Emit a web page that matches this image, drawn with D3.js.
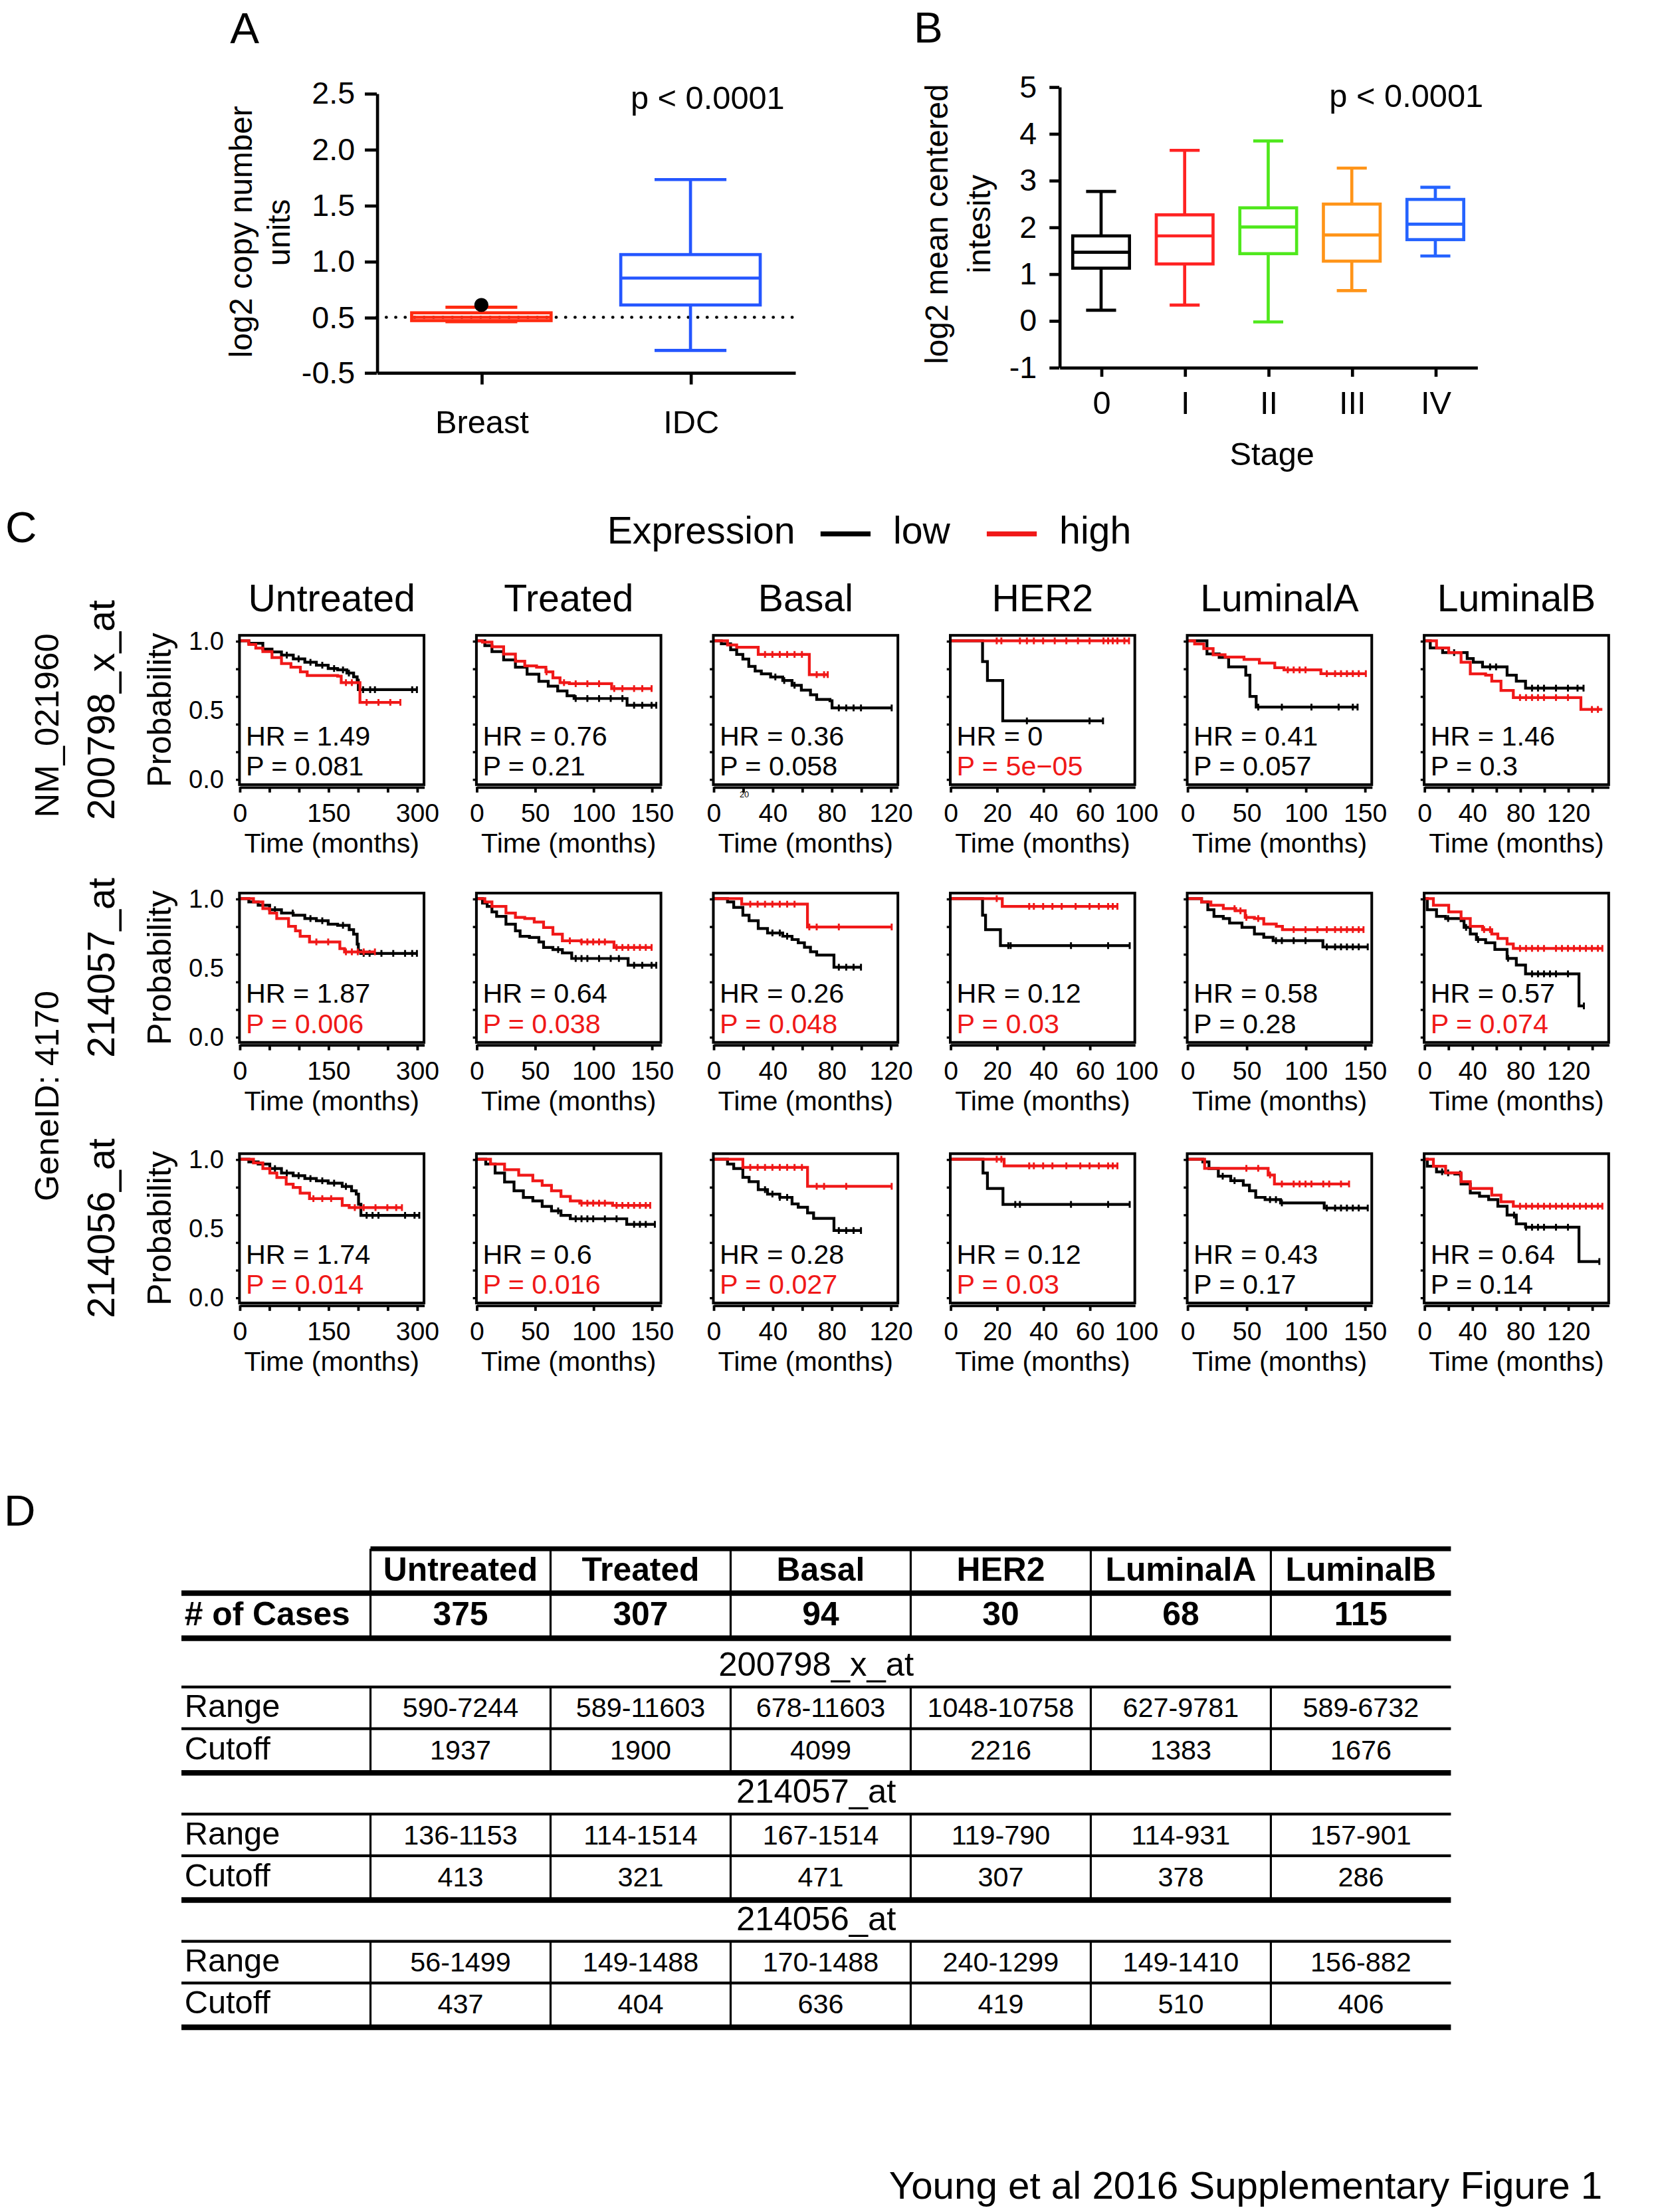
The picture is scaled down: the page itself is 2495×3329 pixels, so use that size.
<!DOCTYPE html>
<html>
<head>
<meta charset="utf-8">
<script src="https://cdn.jsdelivr.net/npm/d3@7"></script>
<style>
  body { margin: 0; background: #fff; }
  svg { display: block; }
  text { font-family: "Liberation Sans", Arial, Helvetica, sans-serif; fill: #000; }
</style>
</head>
<body>
<svg id="fig"></svg>
<script>
// ---------------- data ----------------

// A: copy number box plot (axis is broken below 0.5)
const groupsA = ["Breast", "IDC"]
const lowA = [0.42, -0.1]
const q1A = [0.44, 0.61]
const medA = [0.5, 0.85]
const q3A = [0.54, 1.06]
const highA = [0.59, 1.73]
const outlierA = [[0, 0.61]]          // [group index, value]
const yTicksA = [-0.5, 0.5, 1.0, 1.5, 2.0, 2.5]

// B: intensity by stage
const stagesB = ["0", "I", "II", "III", "IV"]
const lowB = [0.22, 0.33, -0.03, 0.64, 1.38]
const q1B = [1.12, 1.21, 1.43, 1.27, 1.73]
const medB = [1.46, 1.81, 2.0, 1.83, 2.06]
const q3B = [1.81, 2.26, 2.41, 2.49, 2.59]
const highB = [2.76, 3.64, 3.84, 3.26, 2.85]
const yTicksB = [-1, 0, 1, 2, 3, 4, 5]

// C: Kaplan-Meier panels
const colNames = ["Untreated", "Treated", "Basal", "HER2", "LuminalA", "LuminalB"]
const probes = ["200798_x_at", "214057_at", "214056_at"]
const xMaxKM = [312, 158, 125, 79.5, 156, 154]
const xTicksKM = [
   [0, 50, 100, 150, 200, 250, 300], [0, 50, 100, 150], [0, 20, 40, 60, 80, 100, 120],
   [0, 20, 40, 60], [0, 50, 100, 150], [0, 20, 40, 60, 80, 100, 120, 140]]
const xLabelAt = [[0, 150, 300], [0, 50, 100, 150], [0, 40, 80, 120], [0, 20, 40, 60, 80], [0, 50, 100, 150], [0, 40, 80, 120]]
const xLabelText = [["0", "150", "300"], ["0", "50", "100", "150"], ["0", "40", "80", "120"],
   ["0", "20", "40", "60", "100"], ["0", "50", "100", "150"], ["0", "40", "80", "120"]]
const yTicksKM = [0, 0.2, 0.4, 0.6, 0.8, 1]
const yLabelsKM = [0, 0.5, 1]

const hrValues = [[1.49, 0.76, 0.36, 0, 0.41, 1.46], [1.87, 0.64, 0.26, 0.12, 0.58, 0.57], [1.74, 0.6, 0.28, 0.12, 0.43, 0.64]]
const pValues = [["0.081", "0.21", "0.058", "5e\u221205", "0.057", "0.3"],
   ["0.006", "0.038", "0.048", "0.03", "0.28", "0.074"],
   ["0.014", "0.016", "0.027", "0.03", "0.17", "0.14"]]
const pSignif = [[0, 0, 0, 1, 0, 0], [1, 1, 1, 1, 0, 1], [1, 1, 1, 1, 0, 0]]

// curves: [time, survival from that time on]; one entry per column
const low200798 = [
   [[0,1],[15.8,.983],[39.5,.94],[55,.92],[71,.897],[91,.87],[110.5,.845],[130,.824],[150,.80],[166,.79],[181.6,.767],[193,.74],[199,.716],[201,.647],[300,.647]],
   [[0,1],[7.2,.966],[13.3,.922],[23.3,.862],[33.4,.81],[43.4,.759],[53.5,.707],[61.5,.672],[69.6,.638],[77.6,.603],[83.6,.583],[129,.534],[154,.534]],
   [[0,1],[5.4,.979],[11.7,.936],[15.8,.902],[20,.868],[24,.816],[28.3,.782],[32.5,.761],[38.8,.739],[47,.713],[53.3,.679],[59.6,.644],[65.8,.61],[70,.576],[79,.567],[80.4,.515],[120.8,.515]],
   [[0,1],[13.9,.85],[16,.713],[22.6,.421],[65.8,.421]],
   [[0,1],[16.7,.906],[27,.88],[35,.812],[49.5,.752],[53,.598],[58.3,.521],[144,.521]],
   [[0,1],[5.1,.949],[15.4,.915],[35.9,.872],[41,.846],[48.7,.812],[69.2,.752],[76.9,.709],[84.6,.658],[133,.658]]]
const high200798 = [
   [[0,1],[15.8,.974],[27.6,.948],[39.5,.922],[55,.879],[71,.836],[87,.81],[103,.776],[114.5,.75],[166,.745],[172,.698],[203.7,.555],[272,.555]],
   [[0,1],[5.2,.991],[13.3,.957],[23.3,.905],[33.4,.853],[41.4,.819],[51.5,.81],[59.5,.776],[65.5,.733],[71.6,.698],[79.6,.69],[115.8,.655],[150,.655]],
   [[0,1],[9.6,.971],[15.8,.954],[30.4,.902],[65,.756],[77.5,.756]],
   [[0,1],[77,1]],
   [[0,1],[6.25,.978],[14,.944],[21.9,.9],[32,.883],[48,.866],[61,.84],[74,.806],[81.8,.79],[113,.763],[151,.763]],
   [[0,1],[10.3,.949],[20.5,.915],[30.8,.846],[38.5,.761],[51.3,.752],[56.4,.709],[64.1,.641],[74.4,.59],[130.8,.504],[148.7,.504]]]
const cLow200798 = [[80,100,120,140,160,175,185,209,221,229,292,300],[85,95,105,115,125,135,142,150,154],[42,48,55,85,90,95,100,120.8],[33,60,65.8],[60,80,105,128,140,144],[25,55,60,90,95,100,110,120,128,133]]
const cHigh200798 = [[180,190,215,235,255,272],[60,75,85,95,105,118,125,135,142,150],[35,40,45,50,55,60,70,75,77.5],[20,22,30,33,36,40,45,50,55,60,66,68,70,72,75,77],[85,90,95,100,118,125,130,135,140,145,151],[80,85,90,95,100,110,120,140,145]]

const low214057 = [
   [[0,1],[15.8,.976],[31.6,.952],[51,.92],[71,.896],[90.8,.88],[110.5,.856],[130,.84],[150,.815],[166,.807],[185.5,.775],[193,.743],[199,.671],[201,.623],[205,.604],[300,.604]],
   [[0,1],[5.2,.968],[9.2,.944],[13.3,.904],[17.3,.872],[25.3,.815],[33.4,.767],[37.4,.727],[45.4,.719],[53.5,.687],[57.5,.647],[65.5,.631],[73.6,.607],[81.6,.567],[129.9,.518],[154,.518]],
   [[0,1],[9.6,.976],[13.8,.936],[20,.88],[24.2,.84],[30.4,.784],[36.7,.752],[47,.728],[53.3,.704],[57.5,.68],[61.7,.648],[65.8,.616],[70,.592],[81.7,.504],[100,.504]],
   [[0,1],[13.9,.88],[15.2,.776],[21.6,.66],[77.3,.66]],
   [[0,1],[12.1,.976],[17.4,.92],[22.6,.872],[30.5,.856],[35.8,.824],[46.3,.792],[56.8,.744],[64.7,.72],[72.6,.696],[114.7,.651],[152.6,.651]],
   [[0,1],[2.6,.92],[10.3,.872],[17.9,.856],[30.8,.84],[33.3,.792],[38.5,.744],[43.6,.704],[51.3,.68],[59,.632],[69.2,.568],[76.9,.52],[84.6,.456],[129.2,.224],[133.3,.224]]]
const high214057 = [
   [[0,1],[23.7,.976],[39.5,.928],[51,.896],[63,.856],[83,.8],[94.7,.767],[102.6,.727],[118.4,.687],[169.7,.639],[177.6,.615],[229,.615]],
   [[0,1],[7.2,.976],[13.3,.944],[25.3,.896],[33.4,.864],[41.4,.856],[49.5,.831],[57.5,.791],[65.5,.743],[73.6,.695],[89.7,.687],[117.8,.647],[150,.647]],
   [[0,1],[19.2,.96],[63.75,.795],[120.8,.795]],
   [[0,1],[22.4,.944],[72,.944]],
   [[0,1],[12.1,.976],[20,.952],[30.5,.928],[41,.912],[49,.864],[56.8,.856],[64.7,.816],[75.3,.8],[80.5,.776],[149,.776]],
   [[0,1],[7.7,.952],[20.5,.904],[30.8,.856],[38.5,.8],[48.7,.776],[56.4,.744],[61.5,.712],[69.2,.672],[74.4,.64],[148.7,.64]]]
const cLow214057 = [[60,90,120,140,175,210,220,240,260,280,292,300],[70,85,90,95,105,115,122,135,142,150,154],[40,45,50,85,90,95,100],[25,26,52,68,77.3],[75,80,90,100,118,125,130,135,140,145,152.6],[20,35,45,70,90,95,100,105,110,120,133.3]]
const cHigh214057 = [[130,150,180,190,200,210,229],[80,90,95,100,105,110,120,125,130,135,140,145,150],[25,30,35,40,45,50,55,65,70,85,120.8],[20,34,36,40,44,48,54,60,64,68,70,72],[40,45,50,60,90,100,110,118,125,130,135,140,145,149],[50,55,80,85,90,95,100,110,115,120,125,130,135,140,145,148.7]]

const low214056 = [
   [[0,1],[15.8,.981],[31.6,.965],[51.3,.932],[71,.9],[90.8,.881],[110.5,.86],[130,.844],[150,.827],[173.7,.803],[189.5,.771],[197.4,.747],[201.3,.674],[205.3,.594],[304,.594]],
   [[0,1],[8,.965],[16,.9],[24.1,.835],[32.2,.771],[40.2,.723],[48.3,.698],[56.3,.658],[64.3,.626],[72.4,.594],[80.4,.569],[128.7,.529],[152.8,.529]],
   [[0,1],[9.6,.965],[13.8,.933],[20,.869],[24.2,.837],[30.4,.78],[36.7,.748],[45,.724],[53.3,.676],[57.5,.652],[63.8,.612],[67.9,.572],[81.7,.484],[100,.484]],
   [[0,1],[14.1,.9],[16,.788],[22.7,.673],[77.3,.673]],
   [[0,1],[13.2,.981],[18.4,.933],[26.3,.877],[36.8,.845],[47.4,.812],[52.6,.772],[57.9,.724],[65.8,.708],[78.9,.684],[115.8,.647],[152.6,.647]],
   [[0,1],[2.6,.949],[10.3,.909],[17.9,.901],[25.6,.893],[30.8,.821],[38.5,.756],[46.2,.732],[53.8,.708],[61.5,.66],[69.2,.596],[76.9,.532],[84.6,.508],[129.2,.26],[146.2,.26]]]
const high214056 = [
   [[0,1],[23.7,.973],[39.5,.932],[51.3,.9],[63.2,.868],[79,.819],[90.8,.795],[102.6,.755],[118.4,.715],[173.7,.666],[185.5,.65],[274.7,.65]],
   [[0,1],[12.1,.965],[24.1,.924],[36.2,.884],[48.3,.844],[56.3,.811],[64.3,.771],[72.4,.731],[80.4,.698],[88.5,.682],[116.6,.666],[148.8,.666]],
   [[0,1],[20,.941],[63.8,.804],[120.8,.804]],
   [[0,1],[23.2,.952],[72,.952]],
   [[0,1],[14.7,.934],[68.4,.886],[73.7,.821],[136.8,.821]],
   [[0,1],[7.7,.949],[17.9,.901],[30.8,.837],[38.5,.788],[56.4,.74],[64.1,.692],[74.4,.66],[148.7,.66]]]
const cLow214056 = [[60,80,100,120,140,160,180,215,225,235,280,296,304],[70,85,90,95,100,110,120,135,140,145,152.8],[35,40,45,50,85,90,95,100],[28,30,52,68,77.3],[30,40,70,75,80,118,125,130,135,140,145,152.6],[15,20,30,75,85,90,95,100,110,120,146.2]]
const cHigh214056 = [[125,140,155,195,210,230,250,265,274.7],[90,95,100,105,110,120,125,130,135,140,145,148.8],[25,30,35,40,45,50,55,60,70,75,90,120.8],[20,22,34,36,40,44,50,56,60,64,68,70,72],[50,60,70,80,90,95,100,105,115,120,130,136.8],[80,85,90,95,100,105,110,115,120,125,130,135,140,145,148.7]]

// D: table
const casesD = [375, 307, 94, 30, 68, 115]
const rangeD = [
   ["590-7244", "589-11603", "678-11603", "1048-10758", "627-9781", "589-6732"],
   ["136-1153", "114-1514", "167-1514", "119-790", "114-931", "157-901"],
   ["56-1499", "149-1488", "170-1488", "240-1299", "149-1410", "156-882"]]
const cutoffD = [
   [1937, 1900, 4099, 2216, 1383, 1676],
   [413, 321, 471, 307, 378, 286],
   [437, 404, 636, 419, 510, 406]]

// ---------------- drawing ----------------

const colorsA = ["#ff2a10", "#2456ff"]
const colorsB = ["#000000", "#ff2222", "#4fe81c", "#ff9418", "#2563ff"]
const RED = "#f01818"

const svg = d3.select("#fig")
   .attr("width", 2495)
   .attr("height", 3329)
   .attr("viewBox", "0 0 1177 1570.3")

function styleAxis(g, size, width) {
   g.attr("font-family", null).attr("font-size", size)
   g.selectAll("path, line").attr("stroke", "#000").attr("stroke-width", width)
}

function vText(txt, cx, cy, size) {
   svg.append("text")
      .attr("transform", "translate(" + cx + "," + cy + ") rotate(-90)")
      .attr("text-anchor", "middle")
      .attr("dy", "0.35em")
      .attr("font-size", size)
      .text(txt)
}

function panelLabel(txt, x, y) {
   svg.append("text").attr("x", x).attr("y", y).attr("text-anchor", "middle")
      .attr("font-size", 31).text(txt)
}

// box + whiskers from the five numbers
function drawBox(g, cx, y, lo, q1, md, q3, hi, color, boxW, capW) {
   let c = g.append("g").attr("stroke", color).attr("stroke-width", 2.2).attr("fill", "none")
   c.append("line").attr("x1", cx).attr("x2", cx).attr("y1", y(hi)).attr("y2", y(q3))
   c.append("line").attr("x1", cx).attr("x2", cx).attr("y1", y(q1)).attr("y2", y(lo))
   c.append("line").attr("x1", cx - capW / 2).attr("x2", cx + capW / 2).attr("y1", y(hi)).attr("y2", y(hi))
   c.append("line").attr("x1", cx - capW / 2).attr("x2", cx + capW / 2).attr("y1", y(lo)).attr("y2", y(lo))
   c.append("rect").attr("x", cx - boxW / 2).attr("width", boxW)
      .attr("y", y(q3)).attr("height", y(q1) - y(q3))
   c.append("line").attr("x1", cx - boxW / 2).attr("x2", cx + boxW / 2).attr("y1", y(md)).attr("y2", y(md))
}

// ---- Panel A
panelLabel("A", 173.7, 30.7)

const yA = d3.scaleLinear().domain([-0.5, 0.5, 2.5]).range([264.4, 225.2, 66.2])
const xA = d3.scalePoint().domain(groupsA).range([267.5, 564.4]).padding(0.5)
const gA = svg.append("g")

gA.append("line")
   .attr("x1", 267.5).attr("x2", 564.4)
   .attr("y1", yA(0.5)).attr("y2", yA(0.5))
   .attr("stroke", "#000").attr("stroke-width", 2.2)
   .attr("stroke-linecap", "round").attr("stroke-dasharray", "0.1,6.6")

groupsA.forEach(function (grp, i) {
   drawBox(gA, xA(grp), yA, lowA[i], q1A[i], medA[i], q3A[i], highA[i], colorsA[i], 99, 51)
})
outlierA.forEach(function (d) {
   gA.append("circle").attr("cx", xA(groupsA[d[0]])).attr("cy", yA(d[1])).attr("r", 5).attr("fill", "#000")
})

gA.append("g").attr("transform", "translate(267.5,0)")
   .call(d3.axisLeft(yA).tickValues(yTicksA).tickFormat(function (d) { return d.toFixed(1) })
      .tickSize(8.5).tickSizeOuter(0).tickPadding(7))
   .call(styleAxis, 22, 2.2)
gA.append("g").attr("transform", "translate(0,264.4)")
   .call(d3.axisBottom(xA).tickSize(8.5).tickSizeOuter(0).tickPadding(18.3))
   .call(styleAxis, 23, 2.2)

svg.append("text").attr("x", 557).attr("y", 77.2).attr("text-anchor", "end").attr("font-size", 23).text("p < 0.0001")
vText("log2 copy number", 170.8, 164.5, 22.5)
vText("units", 197.8, 165, 22.5)

// ---- Panel B
panelLabel("B", 659, 30.2)

const yB = d3.scaleLinear().domain([-1, 5]).range([260.7, 61.5])
const xB = d3.scalePoint().domain(stagesB).range([752, 1048.6]).padding(0.5)
const gB = svg.append("g")

stagesB.forEach(function (s, i) {
   drawBox(gB, xB(s), yB, lowB[i], q1B[i], medB[i], q3B[i], highB[i], colorsB[i], 40.3, 21.3)
})

gB.append("g").attr("transform", "translate(752,0)")
   .call(d3.axisLeft(yB).tickValues(yTicksB).tickFormat(function (d) { return String(d) })
      .tickSize(7).tickSizeOuter(0).tickPadding(9))
   .call(styleAxis, 22, 2.2)
gB.append("g").attr("transform", "translate(0,260.7)")
   .call(d3.axisBottom(xB).tickSize(6.7).tickSizeOuter(0).tickPadding(10))
   .call(styleAxis, 23, 2.2)

svg.append("text").attr("x", 1053).attr("y", 76).attr("text-anchor", "end").attr("font-size", 23).text("p < 0.0001")
svg.append("text").attr("x", 903).attr("y", 330).attr("text-anchor", "middle").attr("font-size", 23).text("Stage")
vText("log2 mean centered", 665, 159, 22.5)
vText("intesity", 695, 159, 22.5)

// ---- Panel C
panelLabel("C", 15, 384.7)

svg.append("text").attr("x", 431).attr("y", 386).attr("font-size", 27).text("Expression")
svg.append("line").attr("x1", 582.5).attr("x2", 618).attr("y1", 379).attr("y2", 379).attr("stroke", "#000").attr("stroke-width", 3.5)
svg.append("text").attr("x", 634).attr("y", 386).attr("font-size", 27).text("low")
svg.append("line").attr("x1", 700.5).attr("x2", 736).attr("y1", 379).attr("y2", 379).attr("stroke", RED).attr("stroke-width", 3.5)
svg.append("text").attr("x", 752).attr("y", 386).attr("font-size", 27).text("high")

const W = 131, H = 106
const colX0 = 170, colStep = 168.2
const rowTops = [451, 634, 819]

const kmLow = [low200798, low214057, low214056]
const kmHigh = [high200798, high214057, high214056]
const kmCLow = [cLow200798, cLow214057, cLow214056]
const kmCHigh = [cHigh200798, cHigh214057, cHigh214056]

function survAt(curve, t) {
   let s = 1
   curve.forEach(function (p) { if (p[0] <= t) s = p[1] })
   return s
}

probes.forEach(function (probe, r) {
   colNames.forEach(function (name, c) {
      let g = svg.append("g").attr("transform", "translate(" + (colX0 + c * colStep) + "," + rowTops[r] + ")")
      let x = d3.scaleLinear().domain([0, xMaxKM[c]]).range([0, W])
      let y = d3.scaleLinear().domain([-0.04, 1.04]).range([H, 0])
      let line = d3.line().x(function (d) { return x(d[0]) }).y(function (d) { return y(d[1]) }).curve(d3.curveStepAfter)

      // left ticks
      g.append("g").call(d3.axisLeft(y).tickValues(yTicksKM).tickSize(2.5).tickSizeOuter(0).tickFormat(""))
         .call(styleAxis, 10, 1.6)
         .select(".domain").remove()
      if (c === 0) {
         g.append("g").call(d3.axisLeft(y).tickValues(yLabelsKM).tickSize(0).tickPadding(11)
            .tickFormat(function (d) { return d.toFixed(1) }))
            .call(styleAxis, 18, 0)
            .select(".domain").remove()
      }

      // bottom axis line with ticks, then labels
      g.append("g").attr("transform", "translate(0," + (H + 1.6) + ")")
         .call(d3.axisBottom(x).tickValues(xTicksKM[c]).tickSize(4).tickSizeOuter(0).tickFormat(""))
         .call(styleAxis, 10, 1.8)
      g.append("g").attr("transform", "translate(0," + H + ")")
         .call(d3.axisBottom(x).tickValues(xLabelAt[c]).tickSize(0).tickPadding(13.4)
            .tickFormat(function (d, i) { return xLabelText[c][i] }))
         .call(styleAxis, 18.5, 0)
         .select(".domain").remove()

      if (r === 0 && c === 2) {
         // stray small label in the source figure
         g.append("text").attr("x", x(20) + 1).attr("y", H + 9).attr("text-anchor", "middle").attr("font-size", 6).text("20")
      }

      g.append("text").attr("x", W / 2).attr("y", H + 48).attr("text-anchor", "middle").attr("font-size", 19.4).text("Time (months)")

      // curves with censor marks
      ;[[kmLow[r][c], kmCLow[r][c], "#000"], [kmHigh[r][c], kmCHigh[r][c], RED]].forEach(function (k) {
         g.append("path").attr("d", line(k[0])).attr("fill", "none").attr("stroke", k[2]).attr("stroke-width", 2)
         g.selectAll(null).data(k[1]).join("line")
            .attr("x1", function (t) { return x(t) }).attr("x2", function (t) { return x(t) })
            .attr("y1", function (t) { return y(survAt(k[0], t)) - 2.4 })
            .attr("y2", function (t) { return y(survAt(k[0], t)) + 2.4 })
            .attr("stroke", k[2]).attr("stroke-width", 1.4)
      })

      // frame
      g.append("rect").attr("width", W).attr("height", H).attr("fill", "none").attr("stroke", "#000").attr("stroke-width", 1.9)

      g.append("text").attr("x", 4.5).attr("y", 78).attr("font-size", 19.5).text("HR = " + hrValues[r][c])
      g.append("text").attr("x", 4.5).attr("y", 99.5).attr("font-size", 19.5)
         .style("fill", pSignif[r][c] ? RED : "#000")
         .text("P = " + pValues[r][c])

      if (r === 0) {
         g.append("text").attr("x", W / 2).attr("y", -17).attr("text-anchor", "middle").attr("font-size", 27).text(name)
      }
   })
   vText("Probability", 113, rowTops[r] + 53, 23.5)
   vText(probe, 71.5, rowTops[r] + 53, 27)
})
vText("NM_021960", 33, 515, 24)
vText("GeneID: 4170", 33, 778, 24)

// ---- Panel D
panelLabel("D", 14, 1083)

const tLeft = 128.8, tRight = 1030
const tX = d3.scaleBand().domain(colNames).range([263, tRight])
const gD = svg.append("g")

function hLine(x1, y, w) {
   gD.append("line").attr("x1", x1).attr("x2", tRight).attr("y1", y).attr("y2", y).attr("stroke", "#000").attr("stroke-width", w)
}
function vLines(y1, y2) {
   colNames.forEach(function (n) {
      gD.append("line").attr("x1", tX(n)).attr("x2", tX(n)).attr("y1", y1).attr("y2", y2).attr("stroke", "#000").attr("stroke-width", 1.5)
   })
}
function rowText(y, label, values, size, bold) {
   gD.append("text").attr("x", 131).attr("y", y).attr("font-size", bold ? 23.5 : 23)
      .attr("font-weight", bold ? "bold" : null).text(label)
   values.forEach(function (v, i) {
      gD.append("text").attr("x", tX(colNames[i]) + tX.bandwidth() / 2).attr("y", y)
         .attr("text-anchor", "middle").attr("font-size", size)
         .attr("font-weight", bold ? "bold" : null).text(v)
   })
}

vLines(1099.5, 1163)
hLine(263, 1099.5, 3.5)
colNames.forEach(function (n) {
   gD.append("text").attr("x", tX(n) + tX.bandwidth() / 2).attr("y", 1122)
      .attr("text-anchor", "middle").attr("font-size", 23.5).attr("font-weight", "bold").text(n)
})
hLine(tLeft, 1131, 4)
rowText(1154, "# of Cases", casesD, 23.5, true)
hLine(tLeft, 1163, 4)

probes.forEach(function (probe, i) {
   let s = 1197.6 + i * 90.3
   gD.append("text").attr("x", (tLeft + tRight) / 2).attr("y", s - 8).attr("text-anchor", "middle").attr("font-size", 24).text(probe)
   vLines(s, s + 61)
   hLine(tLeft, s, 2)
   rowText(s + 21.5, "Range", rangeD[i], 19.5, false)
   hLine(tLeft, s + 29.6, 2)
   rowText(s + 51.3, "Cutoff", cutoffD[i], 19.5, false)
   hLine(tLeft, s + 61, 4)
})

svg.append("text").attr("x", 1137.5).attr("y", 1561).attr("text-anchor", "end").attr("font-size", 27.5)
   .text("Young et al 2016 Supplementary Figure 1")
</script>
</body>
</html>
